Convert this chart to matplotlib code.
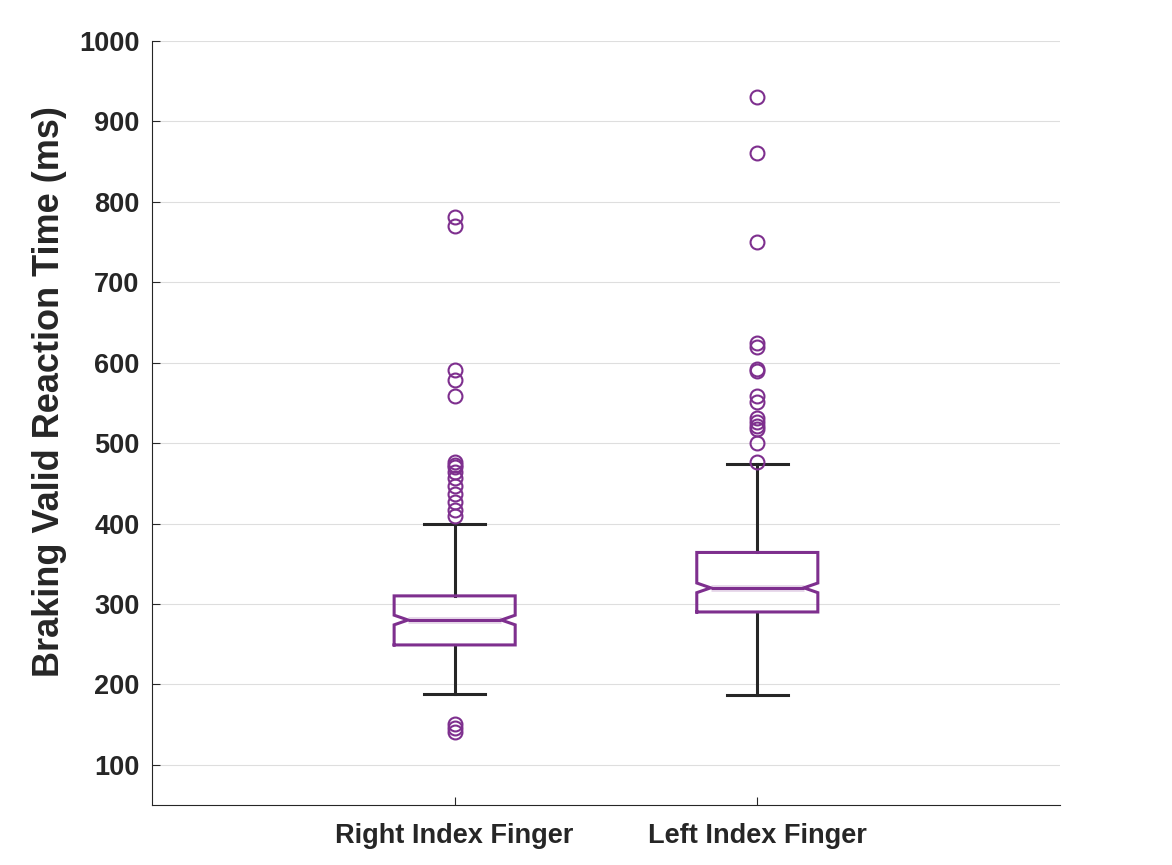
import matplotlib
matplotlib.use("Agg")
import matplotlib.pyplot as plt

# values (ms)
groups = ['Right Index Finger', 'Left Index Finger']
medians = [280, 320]
q1s = [249, 290]
q3s = [310, 364]
whis_lo = [188, 187]
whis_hi = [400, 474]
ci_lo = [274, 314]
ci_hi = [286, 326]
fliers_right = [781, 770, 591, 578, 559, 476, 473, 470, 464, 457, 447,
                437, 427, 417, 409, 151, 146, 141]
fliers_left = [930, 861, 750, 625, 620, 592, 590, 559, 551, 531, 526,
               521, 518, 500, 477]
yticks = [100, 200, 300, 400, 500, 600, 700, 800, 900, 1000]

purple = '#7E2F8E'
dark = '#262626'

plt.rcParams['font.family'] = ['Liberation Sans', 'DejaVu Sans']

fig = plt.figure(figsize=(11.72, 8.65), dpi=100)
ax = fig.add_axes([0.1297, 0.0694, 0.7747, 0.8832])

stats = []
for i, name in enumerate(groups):
    stats.append({
        'label': name,
        'med': medians[i], 'q1': q1s[i], 'q3': q3s[i],
        'whislo': whis_lo[i], 'whishi': whis_hi[i],
        'fliers': [fliers_right, fliers_left][i],
    })

pos = [1, 2]
width = 0.4
ax.bxp(stats, positions=pos, widths=width, capwidths=0.2,
       showbox=False,
       medianprops=dict(linestyle='none'),
       whiskerprops=dict(color=dark, linewidth=2.2),
       capprops=dict(color=dark, linewidth=2.2),
       flierprops=dict(marker='o', markersize=10, markerfacecolor='none',
                       markeredgecolor=purple, markeredgewidth=1.5))

# notched boxes (shallow MATLAB-style notch)
for i, p in enumerate(pos):
    L, R = p - width / 2, p + width / 2
    nl, nr = L + 0.046, R - 0.046
    bx = [L, R, R, nr, R, R, L, L, nl, L, L]
    by = [q1s[i], q1s[i], ci_lo[i], medians[i], ci_hi[i], q3s[i],
          q3s[i], ci_hi[i], medians[i], ci_lo[i], q1s[i]]
    ax.plot(bx, by, color=purple, linewidth=2.2, zorder=3,
            solid_joinstyle='miter')
    ax.plot([nl, nr], [medians[i], medians[i]], color=purple, alpha=0.18,
            linewidth=5, zorder=2.5, solid_capstyle='butt')
    ax.plot([nl, nr], [medians[i], medians[i]], color=purple,
            linewidth=2.2, zorder=3, solid_capstyle='butt')

ax.set_xlim(0, 3)
ax.set_ylim(50, 1000)
ax.set_yticks(yticks)
ax.set_xticks(pos)
ax.set_xticklabels(groups)
ax.yaxis.grid(True, color='#dedede', linewidth=0.8)
ax.set_axisbelow(True)

for s in ['top', 'right']:
    ax.spines[s].set_visible(False)
for s in ['left', 'bottom']:
    ax.spines[s].set_color(dark)
    ax.spines[s].set_linewidth(0.8)

ax.tick_params(direction='in', length=6, width=0.8, color=dark,
               labelcolor=dark, labelsize=19.5)
ax.tick_params(axis='x', pad=13)
ax.tick_params(axis='y', pad=9)
for lab in ax.get_xticklabels() + ax.get_yticklabels():
    lab.set_fontweight('bold')

ax.set_ylabel('Braking Valid Reaction Time (ms)', fontsize=26,
              fontweight='bold', color=dark)
ax.yaxis.set_label_coords(-0.094, 0.541)

fig.savefig('out.png', dpi=100)
